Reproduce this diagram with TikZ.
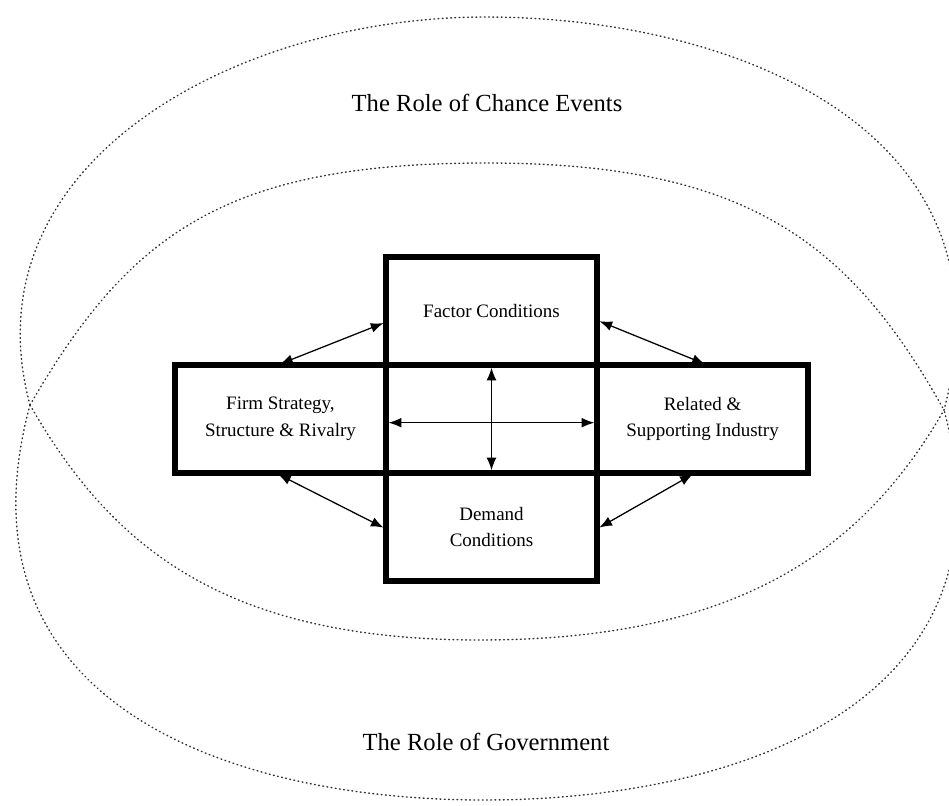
\documentclass[tikz,border=0pt]{standalone}
\usepackage{fontspec}
\setmainfont{Liberation Serif}
\usetikzlibrary{positioning, arrows.meta}
\tikzset{>={Latex[length=9pt,width=7pt]}}

\begin{document}
\begin{tikzpicture}[x=0.025cm, y=-0.025cm,
                    line cap=round, line join=round,
                    box/.style={draw, line width=3.8pt, line join=miter,
                                outer sep=0pt, minimum width=5.275cm,
                                minimum height=2.7cm, align=center,
                                font=\fontsize{13.5}{19}\selectfont},
                    link/.style={<->, line width=0.9pt,
                                 shorten <=1.9pt, shorten >=1.9pt},
                    ring/.style={black!80, line width=1pt,
                                 dash pattern=on 0.6pt off 2.4pt},
                    title/.style={font=\fontsize{17.5}{21}\selectfont}]
  \useasboundingbox (0,0) rectangle (949,805);

  % tips shared by all four arcs
  \coordinate (tipL) at (30,405);
  \coordinate (tipR) at (944,410);

  % outer ring
  \draw[ring] (tipL) .. controls (-35,164) and (235,17) .. (485,17)
                     .. controls (735,17) and (1019,130) .. (tipR);
  \draw[ring] (tipL) .. controls (-50,700) and (224,800) .. (484,800)
                     .. controls (744,800) and (1022,700) .. (tipR);
  % inner lens
  \draw[ring] (tipL) .. controls (130,232) and (227,163) .. (487,163)
                     .. controls (747,163) and (850,242) .. (tipR);
  \draw[ring] (tipL) .. controls (110,544) and (220,640) .. (480,640)
                     .. controls (740,640) and (864,549) .. (tipR);

  \node[title] (chance) at (487,103) {The Role of Chance Events};
  \node[title] (govt) at (486,742) {The Role of Government};

  % the diamond
  \node[box] (centre) at (491.5,419) {};
  \node[box, above=0pt of centre] (factor) {Factor Conditions};
  \node[box, below=0pt of centre] (demand) {Demand\\Conditions};
  \node[box, left=0pt of centre] (firm) {Firm Strategy,\\Structure \& Rivalry};
  \node[box, right=0pt of centre] (related) {Related \&\\Supporting Industry};

  \draw[link] (firm.93) -- (factor.186);
  \draw[link] (factor.355) -- (related.85);
  \draw[link] (firm.265) -- (demand.181);
  \draw[link] (demand.359) -- (related.262);
  \draw[link] (centre.north) -- (centre.south);
  \draw[link] (centre.182) -- (centre.358);
\end{tikzpicture}
\end{document}
